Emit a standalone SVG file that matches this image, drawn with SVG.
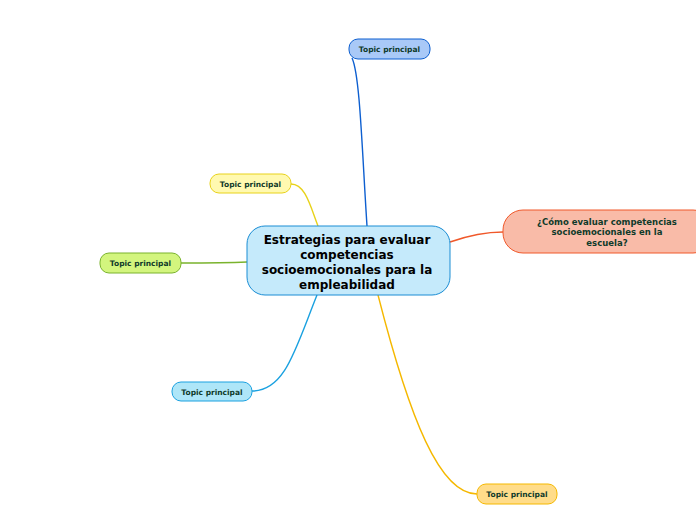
<svg xmlns="http://www.w3.org/2000/svg" width="696" height="520" viewBox="0 0 696 520">
<style>
text{font-family:"DejaVu Sans","Verdana",sans-serif;font-weight:bold;fill:#0f3a2a;text-anchor:middle}
.t{font-size:7.5px}
.c{font-size:12px;fill:#000}
.s{font-size:8.5px}
.l{fill:none;stroke-width:1.4}
</style>
<rect width="696" height="520" fill="#fff"/>
<g id="connectors">
<path class="l" stroke="#0d5fd0" d="M367,226 C362,150 360,75 352,58"/>
<path class="l" stroke="#e8d21a" d="M318,226 C310,205 305,184 291,184"/>
<path class="l" stroke="#7ab32d" d="M247,262 C225,263 200,263 181,263"/>
<path class="l" stroke="#1aa1e0" d="M317,295 C295,350 285,391 252,391"/>
<path class="l" stroke="#f5b800" d="M378,295 C410,420 440,494 477,494"/>
<path class="l" stroke="#f0582a" d="M450,242 C470,235 485,232 503,232"/>
</g>
<g id="central">
<rect x="247" y="226" width="203" height="69" rx="18" fill="#c5eafb" stroke="#1a8dd4" stroke-width="1"/>
<text class="c" x="347" y="244">Estrategias para evaluar</text>
<text class="c" x="347" y="259">competencias</text>
<text class="c" x="347" y="274">socioemocionales para la</text>
<text class="c" x="347" y="289">empleabilidad</text>
</g>
<g id="topic-top">
<rect x="349" y="39" width="81" height="20" rx="9" fill="#a9c9f7" stroke="#0d5fd0"/>
<text class="t" x="389.5" y="52">Topic principal</text>
</g>
<g id="topic-yellow">
<rect x="210" y="174" width="81" height="19" rx="9" fill="#fff9b0" stroke="#e8d21a"/>
<text class="t" x="250.5" y="186.5">Topic principal</text>
</g>
<g id="topic-green">
<rect x="100" y="253" width="81" height="20" rx="9" fill="#d3f57e" stroke="#7ab32d"/>
<text class="t" x="140.5" y="266">Topic principal</text>
</g>
<g id="topic-lightblue">
<rect x="172" y="382" width="80" height="19" rx="9" fill="#aee6f8" stroke="#1aa1e0"/>
<text class="t" x="212" y="394.5">Topic principal</text>
</g>
<g id="topic-orange">
<rect x="477" y="484" width="80" height="20" rx="9" fill="#ffdc8a" stroke="#f5b800"/>
<text class="t" x="517" y="497">Topic principal</text>
</g>
<g id="topic-salmon">
<rect x="503" y="210" width="210" height="43" rx="20" fill="#f9bba8" stroke="#f0582a"/>
<text class="s" x="607" y="224.5">¿Cómo evaluar competencias</text>
<text class="s" x="607" y="235">socioemocionales en la</text>
<text class="s" x="607" y="245.5">escuela?</text>
</g>
</svg>
